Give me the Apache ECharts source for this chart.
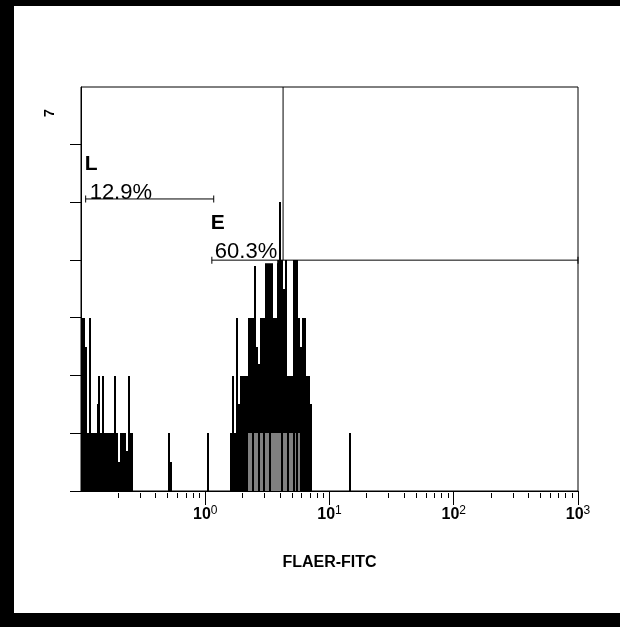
<!DOCTYPE html>
<html><head><meta charset="utf-8">
<script src="https://cdn.jsdelivr.net/npm/echarts@6/dist/echarts.min.js"></script>
<style>
html,body{margin:0;padding:0;background:#fff;overflow:hidden;}
#c{position:absolute;left:0;top:0;width:620px;height:627px;}
.b{position:absolute;background:#000;}
</style></head><body>
<div id="c"></div>
<div class="b" style="left:0;top:0;width:620px;height:6px"></div>
<div class="b" style="left:0;top:0;width:14px;height:627px"></div>
<div class="b" style="left:0;top:613px;width:620px;height:14px"></div>
<script>
// ---------- data ----------
const CHANNELS = 256;
const X_MIN = 0.1, X_MAX = 1000;
const Y_MAX = 7;
const yMaxLabel = '7';
const xAxisTitle = 'FLAER-FITC';
// histogram: [channel, count] (black population)
const blackBins = [
 [0,3],[1,3],[2,2.5],[3,1],[4,3],[5,1],[6,1],[7,1],[8,1.5],[9,2],[10,1],[11,2],[12,1],[13,1],[14,1],[15,1],[16,1],[17,2],[18,1],[19,0.5],[20,1],[21,1],[22,1],[23,0.7],[24,2],[25,1],[26,1],
 [45,1],[46,0.5],[65,1],
 [77,1],[78,2],[79,1],[80,3],[81,1.5],[82,2],[83,2],[84,2],[85,2],[86,3],[87,3],[88,3],[89,3.9],[90,2.5],[91,2.2],[92,3],[93,3],[94,3],[95,4],[96,4],[97,4],[98,4],[99,3],[100,3],[101,4],[102,5],[103,4],[104,3.5],[105,4],[106,2],[107,2],[108,2],[109,4],[110,4],[111,4],[112,3],[113,2.5],[114,3],[115,3],[116,2],[117,2],[118,1.5],
 [138,1]
];
// grey overlay population: channels with count 1
const greyChannels = [86,87,89,90,92,93,95,96,98,99,100,101,102,104,105,107,108,110,112];
const greyCount = 1;
// gates: [from, to, level]
const gateLRange = [0.109, 1.17, 5.06];
const gateERange = [1.13, 1000, 4];
const gateNames = ['L', 'E'];
const gatePercents = ['12.9%', '60.3%'];
const dividerLine = [4.23, 4, 7]; // x, from, to
// axis ticks
const majorTickValues = [1, 10, 100, 1000];
const minorMantissas = [2,3,4,5,6,7,8,9];
const minorDecades = [0.1, 1, 10, 100];
const yTickValues = [0,1,2,3,4,5,6];

// ---------- build ----------
const channelCats = Array.from({length: CHANNELS}, (_, i) => String(i));
const greyBins = greyChannels.map(c => [c, greyCount]);

const xTickData = majorTickValues.map(v => [v, 1]);
minorDecades.forEach(d => minorMantissas.forEach(m => xTickData.push([m * d, 0])));
const yTickData = yTickValues.map(v => [X_MIN, v]);

const FONT = '"Liberation Sans", Arial, sans-serif';

function histSeries(data, color) {
  return {
    type: 'custom', xAxisIndex: 0, yAxisIndex: 0, silent: true, data: data, z: 2,
    renderItem: (params, api) => {
      const top = api.coord([api.value(0), api.value(1)]);
      const base = api.coord([api.value(0), 0]);
      const w = api.size([1, 0])[0];
      const x0 = Math.round(top[0] - w / 2), x1 = Math.round(top[0] + w / 2);
      const y0 = Math.round(top[1]), y1 = Math.round(base[1]);
      return {type: 'rect', shape: {x: x0, y: y0, width: Math.max(1, x1 - x0), height: y1 - y0},
              style: {fill: color}};
    }
  };
}

// label carrier (drawn below the gate lines)
function gateLabelSeries(range, name, pct, padLeft, dy) {
  return {
    type: 'line', xAxisIndex: 1, yAxisIndex: 0, silent: true, z: 5,
    symbol: 'rect', symbolSize: [1, 7], showSymbol: true,
    itemStyle: {color: 'transparent'},
    lineStyle: {color: 'transparent', width: 0},
    label: {show: false},
    data: [
      {value: [range[0], range[2]], label: {
        show: true, position: ['50%', '50%'], align: 'left', verticalAlign: 'bottom',
        offset: [-1, dy],
        formatter: '{n|' + name + '}\n{p|' + pct + '}',
        rich: {
          n: {fontFamily: FONT, fontSize: 21, fontWeight: 'bold', color: '#000', lineHeight: 36},
          p: {fontFamily: FONT, fontSize: 22, color: '#000', lineHeight: 14, padding: [8, 0, 0, padLeft], backgroundColor: '#fff'}
        }
      }},
      {value: [range[1], range[2]]}
    ]
  };
}

function gateLineSeries(range) {
  return {
    type: 'line', xAxisIndex: 1, yAxisIndex: 0, silent: true, z: 10,
    symbol: 'rect', symbolSize: [1, 7], showSymbol: true,
    itemStyle: {color: '#000'},
    lineStyle: {color: '#000', width: 1},
    label: {show: false},
    data: [[range[0], range[2]], [range[1], range[2]]]
  };
}

const chart = echarts.init(document.getElementById('c'), null, {renderer: 'canvas'});
chart.setOption({
  backgroundColor: '#fff',
  animation: false,
  grid: {left: 81, top: 87, width: 497, height: 404, show: true, borderColor: '#000', borderWidth: 1, backgroundColor: 'transparent'},
  xAxis: [
    {type: 'category', data: channelCats, position: 'top', show: false, boundaryGap: true},
    {type: 'log', logBase: 10, min: X_MIN, max: X_MAX, position: 'bottom',
     axisLine: {show: true, lineStyle: {color: '#000', width: 1}},
     axisTick: {show: false}, splitLine: {show: false}, minorTick: {show: false},
     axisLabel: {
       margin: 14, color: '#000',
       formatter: v => { const e = Math.round(Math.log10(v)); return e < 0 ? '' : '{b|10}{s|' + e + '}'; },
       rich: {
         b: {fontFamily: FONT, fontSize: 16, fontWeight: 'bold', color: '#000', lineHeight: 20},
         s: {fontFamily: FONT, fontSize: 12, color: '#000', lineHeight: 11, verticalAlign: 'top'}
       }
     },
     name: xAxisTitle, nameLocation: 'middle', nameGap: 64,
     nameTextStyle: {fontFamily: FONT, fontSize: 16, fontWeight: 'bold', color: '#000'}
    }
  ],
  yAxis: [{type: 'value', min: 0, max: Y_MAX, interval: 1,
    axisLine: {show: true, lineStyle: {color: '#000', width: 1}},
    axisTick: {show: false}, axisLabel: {show: false}, splitLine: {show: false}}],
  graphic: [{type: 'text', x: 43, y: 117, rotation: Math.PI / 2,
    style: {text: yMaxLabel, font: 'bold 14px ' + FONT, fill: '#000'}}],
  series: [
    histSeries(blackBins, '#000'),
    histSeries(greyBins, '#808080'),
    gateLabelSeries(gateLRange, gateNames[0], gatePercents[0], 5, -3),
    gateLabelSeries(gateERange, gateNames[1], gatePercents[1], 4, -5),
    gateLineSeries(gateLRange),
    gateLineSeries(gateERange),
    {type: 'line', xAxisIndex: 1, yAxisIndex: 0, silent: true, symbol: 'none', z: 10,
     lineStyle: {color: '#000', width: 1},
     data: [[dividerLine[0], dividerLine[1]], [dividerLine[0], dividerLine[2]]]},
    {type: 'custom', xAxisIndex: 1, yAxisIndex: 0, silent: true, clip: false, data: xTickData,
     renderItem: (params, api) => {
       const p = api.coord([api.value(0), 0]);
       const major = api.value(1) === 1;
       const x = Math.floor(p[0]) + 0.5, y = Math.round(p[1]);
       return {type: 'line', shape: {x1: x, y1: y + (major ? 0 : 2), x2: x, y2: y + (major ? 14 : 7)},
               style: {stroke: '#000', lineWidth: 1}};
     }},
    {type: 'custom', xAxisIndex: 1, yAxisIndex: 0, silent: true, clip: false, data: yTickData,
     renderItem: (params, api) => {
       const p = api.coord([api.value(0), api.value(1)]);
       const y = Math.floor(p[1]) + 0.5, x = Math.round(p[0]);
       return {type: 'line', shape: {x1: x - 11, y1: y, x2: x, y2: y},
               style: {stroke: '#000', lineWidth: 1}};
     }}
  ]
});
</script>
</body></html>
